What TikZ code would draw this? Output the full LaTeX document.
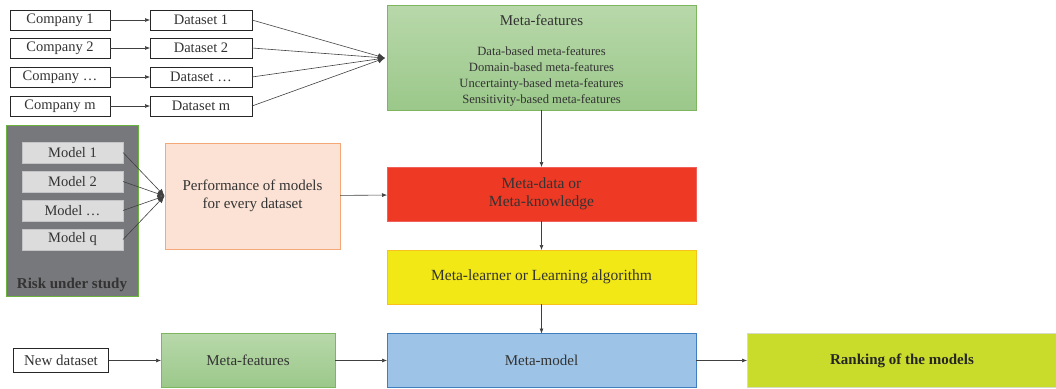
\documentclass[tikz,border=0pt]{standalone}
\usepackage{fontspec}
\setmainfont{Liberation Serif}
\usetikzlibrary{arrows.meta}
\definecolor{txt}{HTML}{333333}
\definecolor{mfborder}{HTML}{7DB65E}
\definecolor{mftop}{HTML}{B8D8AA}
\definecolor{mfbot}{HTML}{9BC88A}
\definecolor{riskfill}{HTML}{77787B}
\definecolor{riskborder}{HTML}{6DB33F}
\definecolor{modelfill}{HTML}{DCDCDD}
\definecolor{modelborder}{HTML}{C4C4C6}
\definecolor{perffill}{HTML}{FBE2D5}
\definecolor{perfborder}{HTML}{F4A878}
\definecolor{redfill}{HTML}{EE3A24}
\definecolor{redborder}{HTML}{F0605A}
\definecolor{yelfill}{HTML}{F2E816}
\definecolor{yelborder}{HTML}{F7C21C}
\definecolor{bluefill}{HTML}{9DC3E6}
\definecolor{blueborder}{HTML}{3F7FC0}
\definecolor{rankfill}{HTML}{C9DC2B}
\definecolor{rankborder}{HTML}{D4DCC8}
\tikzset{
  base/.style={inner sep=0pt, outer sep=0pt, align=center, text=txt, font=\fontsize{14.5}{16}\selectfont},
  wbox/.style={base, draw=black!85, line width=0.8pt, fill=white},
  modelbox/.style={base, draw=modelborder, line width=0.8pt, fill=modelfill, minimum width=101pt, minimum height=21pt},
  conn/.style={draw=black!75, line width=0.6pt},
  arr/.style={conn, -{Latex[length=5pt,width=4pt]}},
  bigarr/.style={conn, -{Latex[length=7pt,width=6pt]}},
}
\begin{document}
\begin{tikzpicture}[x=1pt,y=-1pt]
\useasboundingbox (0,0) rectangle (1056,388);
% companies and datasets
\foreach \i/\lab/\dlab/\yy in {1/Company 1/Dataset 1/20, 2/Company 2/Dataset 2/48, 3/Company \dots/Dataset \dots/77, 4/Company m/Dataset m/106} {
  \node[wbox, minimum width=100pt, minimum height=20pt] (c\i) at (60,\yy) {\lab};
  \node[wbox, minimum width=102pt, minimum height=20pt] (d\i) at (201,\yy) {\dlab};
  \draw[arr] (c\i) -- (d\i);
}
% meta-features
\node[base, draw=mfborder, line width=1pt, top color=mftop, bottom color=mfbot, minimum width=309pt, minimum height=105pt] (mf) at (541.5,57.5) {};
\node[base, font=\fontsize{15}{17}\selectfont] (mft) at (541.5,20) {Meta-features};
\node[base, font=\fontsize{12.6}{16}\selectfont] (mfl) at (541.5,76) {Data-based meta-features\\Domain-based meta-features\\Uncertainty-based  meta-features\\Sensitivity-based meta-features};
\coordinate (j1) at (385,58);
\foreach \i in {1,...,4} { \draw[bigarr] (d\i.east) -- (j1); }
% risk under study
\node[base, draw=riskborder, line width=1pt, fill=riskfill, minimum width=132pt, minimum height=171pt] (risk) at (72,210.5) {};
\node[base, font=\bfseries\fontsize{15}{17}\selectfont, text=black!80] (risklab) at (72,285) {Risk under study};
\node[modelbox] (m1) at (72.5,152.5) {Model 1};
\node[modelbox] (m2) at (72.5,181.5) {Model 2};
\node[modelbox] (m3) at (72.5,210.5) {Model \dots};
\node[modelbox] (m4) at (72.5,239.5) {Model q};
% performance
\node[base, draw=perfborder, line width=1pt, fill=perffill, minimum width=175pt, minimum height=106pt, font=\fontsize{15}{18}\selectfont] (perf) at (252.5,196) {Performance of models\\for every dataset};
\coordinate (j2) at (164.5,196);
\foreach \i in {1,...,4} { \draw[bigarr] (m\i.east) -- (j2); }
% meta-data
\node[base, draw=redborder, line width=1pt, fill=redfill, minimum width=309pt, minimum height=54pt, font=\fontsize{15.5}{18}\selectfont] (md) at (541.5,194) {Meta-data or\\Meta-knowledge};
\draw[arr] (perf) -- (md);
\draw[arr] (mf.south -| md.north) -- (md.north);
% meta-learner
\node[base, draw=yelborder, line width=1pt, fill=yelfill, minimum width=309pt, minimum height=54pt, font=\fontsize{15.5}{18}\selectfont] (ml) at (541.5,277) {Meta-learner or Learning algorithm};
\draw[arr] (md) -- (ml);
% bottom row
\node[wbox, minimum width=95pt, minimum height=24pt, font=\fontsize{15}{17}\selectfont] (nd) at (61,360.5) {New dataset};
\node[base, draw=mfborder, line width=1pt, top color=mftop, bottom color=mfbot, minimum width=174pt, minimum height=54pt, font=\fontsize{15}{17}\selectfont] (mf2) at (248,360.5) {Meta-features};
\node[base, draw=blueborder, line width=1pt, fill=bluefill, minimum width=309pt, minimum height=54pt, font=\fontsize{15}{17}\selectfont] (mm) at (541.5,360.5) {Meta-model};
\node[base, draw=rankborder, line width=1pt, fill=rankfill, minimum width=310pt, minimum height=54pt, font=\bfseries\fontsize{15}{17}\selectfont, text=black!85] (rank) at (902,360.5) {Ranking of the models};
\draw[arr] (ml) -- (mm);
\draw[arr] (nd) -- (mf2);
\draw[arr] (mf2) -- (mm);
\draw[arr] (mm) -- (rank);
\end{tikzpicture}
\end{document}
